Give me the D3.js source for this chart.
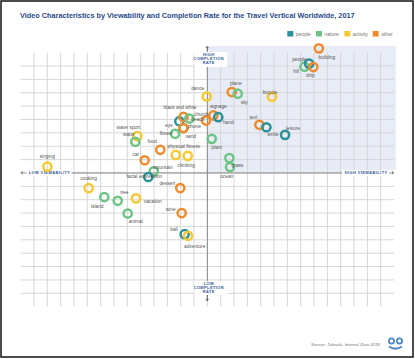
<!DOCTYPE html>
<html><head><meta charset="utf-8">
<script src="https://cdn.jsdelivr.net/npm/d3@7"></script>
<style>
html,body{margin:0;padding:0;background:#fff;}
svg{display:block;font-family:"Liberation Sans",Arial,Helvetica,sans-serif;}
</style></head>
<body>
<svg id="chart" width="415" height="359"></svg>
<script>
// ---- data ----
const categoryNames = ["people", "nature", "activity", "other"];
const pointNames = ["singing","cooking","island","tree","vacation","animal","water sport","water","car","food",
  "mountain","facial expression","flower","physical fitness","climbing","dessert","wine","ball","adventure",
  "eye","sand","phone","black and white","beach","church","dance","signage","hand","plant","plane","sky",
  "bicycle","text","smile","leisure","grass","ocean","hill","people","ship","building"];
const pointCategories = ["activity","activity","nature","nature","activity","nature","activity","nature","other","other",
  "nature","people","nature","activity","activity","other","other","people","activity",
  "people","nature","other","other","nature","other","activity","other","people","nature","other","nature",
  "activity","other","people","people","nature","nature","nature","people","other","other"];
const viewability = [-12.0,-8.9,-7.73,-6.72,-5.35,-5.97,-5.25,-5.4,-4.7,-3.53,
  -4.02,-4.43,-2.42,-2.37,-1.47,-2.03,-1.92,-1.7,-1.45,
  -2.1,-1.8,-1.8,-1.79,-1.35,-0.1,-0.05,0.45,0.82,0.33,1.83,2.28,
  4.85,3.9,4.43,5.83,1.65,1.7,7.28,7.63,7.95,8.36];
const completionRate = [0.47,-1.14,-1.8,-2.08,-1.9,-3.03,2.75,2.33,0.95,1.73,
  0.12,-0.3,2.93,1.35,1.28,-1.13,-3.0,-4.58,-4.7,
  3.87,3.36,3.36,4.19,4.07,3.92,5.72,4.3,4.17,2.55,6.05,5.93,
  5.7,3.6,3.42,2.85,1.11,0.44,7.95,8.18,7.92,9.32];

// ---- layout (label placement, px offsets from ring centre) ----
const labelOffsets = {
  "singing":[0,-10],"cooking":[0,-9.5],"island":[-7,9.4],"tree":[6.6,-8],"vacation":[16.7,3.6],
  "animal":[8,8.3],"water sport":[-9,-9],"water":[-6.5,-7],"car":[-9,-5.7],"food":[-8,-8.6],
  "mountain":[9,-3.4],"facial expression":[-4,0],"flower":[-9,0],"physical fitness":[8,-8.6],
  "climbing":[-1.7,9.4],"dessert":[-13,-4.3],"wine":[-11,-4],"ball":[-10.7,-4.3],"adventure":[6.7,10.7],
  "eye":[-10.5,4.5],"sand":[7.5,8],"phone":[11,-1.5],"black and white":[-3.5,-9],"beach":[8.5,1],
  "church":[-5,-6.5],"dance":[-9,-8],"signage":[5,-9],"hand":[10,5.6],"plant":[5,8.4],
  "plane":[4,-9],"sky":[6.6,8.7],"bicycle":[-2,-4.3],"text":[-6,-7.6],"smile":[6.4,7.6],
  "leisure":[8,-6.3],"grass":[8,7.5],"ocean":[-3.3,9.8],"hill":[-8.3,4.4],"people":[-9.7,-4.3],
  "ship":[-3,8.3],"building":[8,8.7]
};

const colors = {people:"#2a9199", nature:"#6cc485", activity:"#f5c834", other:"#ef8b2c"};

const points = pointNames.map((n,i)=>({name:n, cat:pointCategories[i], vx:viewability[i], cy:completionRate[i]}));

const svg = d3.select("#chart");

// scales: one grid cell = 1 unit
const x = d3.scaleLinear().domain([-13,13]).range([34,380.7]);
const y = d3.scaleLinear().domain([-9,8]).range([293.3,66]);

// border
svg.append("rect").attr("x",1).attr("y",1).attr("width",412).attr("height",356)
  .attr("fill","#fff").attr("stroke","#111").attr("stroke-width",1.5);

// title
svg.append("text").attr("x",20).attr("y",18.2).attr("fill","#2b4a8b")
  .attr("font-weight","bold").attr("font-size",7.3)
  .text("Video Characteristics by Viewability and Completion Rate for the Travel Vertical Worldwide, 2017");

// legend
const lg = svg.append("g");
const legendX = [287.3, 316, 344.3, 372.7];
categoryNames.forEach((c,i)=>{
  lg.append("rect").attr("x",legendX[i]).attr("y",31).attr("width",6).attr("height",5.5).attr("fill",colors[c]);
  lg.append("text").attr("x",legendX[i]+8.5).attr("y",35.6).attr("font-size",5).attr("fill","#777").text(c);
});

// shaded quadrant
svg.append("rect").attr("x",x(0)).attr("y",46).attr("width",396-x(0)).attr("height",y(0)-46)
  .attr("fill","#e8ecf6");

// grid
const grid = svg.append("g").attr("stroke","#d6d6d6").attr("stroke-width",1);
d3.range(-13,14).forEach(v=>{
  grid.append("line").attr("x1",x(v)).attr("x2",x(v)).attr("y1",y(9)).attr("y2",y(-10));
});
d3.range(-9,9).forEach(v=>{
  grid.append("line").attr("x1",x(-14)).attr("x2",x(14)).attr("y1",y(v)).attr("y2",y(v));
});

// main axes
const ax = svg.append("g").attr("stroke","#8a8a8a").attr("stroke-width",1);
ax.append("line").attr("x1",x(-14)).attr("x2",x(14)).attr("y1",y(0)).attr("y2",y(0));
ax.append("line").attr("x1",x(0)).attr("x2",x(0)).attr("y1",y(9.4)).attr("y2",y(-9.6));

// axis end labels
const axColor = "#2f5597";
function arrowHead(g, cx, cy, dir){
  const s=1.6;
  let pts;
  if(dir==="left") pts=[[cx,cy],[cx+s,cy-s],[cx+s,cy+s]];
  if(dir==="right") pts=[[cx,cy],[cx-s,cy-s],[cx-s,cy+s]];
  if(dir==="up") pts=[[cx,cy],[cx-s,cy+s],[cx+s,cy+s]];
  if(dir==="down") pts=[[cx,cy],[cx-s,cy-s],[cx+s,cy-s]];
  g.append("polyline").attr("points",pts.map(p=>p.join(",")).join(" ")).attr("fill","none")
    .attr("stroke","#555").attr("stroke-width",0.6);
}
const al = svg.append("g");
// left
al.append("rect").attr("x",x(-14)-1).attr("y",y(0)-3).attr("width",52).attr("height",6).attr("fill","#fff");
al.append("line").attr("x1",x(-14)).attr("x2",x(-14)+6).attr("y1",y(0)).attr("y2",y(0)).attr("stroke","#555").attr("stroke-width",0.6);
arrowHead(al, x(-14), y(0), "left");
al.append("text").attr("x",x(-14)+8).attr("y",y(0)+1.4).attr("font-size",3.9).attr("font-weight","bold")
  .attr("letter-spacing",0.45).attr("fill",axColor).text("LOW VIEWABILITY");
// right
al.append("rect").attr("x",342).attr("y",y(0)-3).attr("width",54).attr("height",6).attr("fill","#fff");
al.append("line").attr("x1",x(14)-5).attr("x2",x(14)).attr("y1",y(0)).attr("y2",y(0)).attr("stroke","#555").attr("stroke-width",0.6);
arrowHead(al, x(14), y(0), "right");
al.append("text").attr("x",x(14)-6.5).attr("y",y(0)+1.4).attr("text-anchor","end").attr("font-size",3.9)
  .attr("font-weight","bold").attr("letter-spacing",0.45).attr("fill",axColor).text("HIGH VIEWABILITY");
// top
al.append("rect").attr("x",x(0)-13).attr("y",52).attr("width",33).attr("height",15).attr("fill","#fff");
al.append("line").attr("x1",x(0)).attr("x2",x(0)).attr("y1",46).attr("y2",51).attr("stroke","#555").attr("stroke-width",0.6);
arrowHead(al, x(0), 46, "up");
["HIGH","COMPLETION","RATE"].forEach((t,i)=>{
  al.append("text").attr("x",x(0)+1.5).attr("y",56.4+i*3.9).attr("text-anchor","middle").attr("font-size",3.9)
    .attr("font-weight","bold").attr("letter-spacing",0.45).attr("fill",axColor).text(t);
});
// bottom
al.append("rect").attr("x",x(0)-13).attr("y",281).attr("width",33).attr("height",14).attr("fill","#fff");
al.append("line").attr("x1",x(0)).attr("x2",x(0)).attr("y1",295).attr("y2",301).attr("stroke","#555").attr("stroke-width",0.6);
arrowHead(al, x(0), 301, "down");
["LOW","COMPLETION","RATE"].forEach((t,i)=>{
  al.append("text").attr("x",x(0)+1.5).attr("y",285+i*3.9).attr("text-anchor","middle").attr("font-size",3.9)
    .attr("font-weight","bold").attr("letter-spacing",0.45).attr("fill",axColor).text(t);
});

// rings
const rings = svg.append("g");
rings.selectAll("circle").data(points).join("circle")
  .attr("cx",d=>x(d.vx)).attr("cy",d=>y(d.cy)).attr("r",4.1)
  .attr("fill","none")
  .attr("stroke",d=>colors[d.cat]).attr("stroke-width",2.5);

// labels
svg.append("g").selectAll("text").data(points).join("text")
  .attr("x",d=>x(d.vx)+labelOffsets[d.name][0])
  .attr("y",d=>y(d.cy)+labelOffsets[d.name][1])
  .attr("text-anchor","middle").attr("dominant-baseline","central")
  .attr("font-size",4.8).attr("fill","#555").text(d=>d.name);

// source
svg.append("text").attr("x",380).attr("y",345.5).attr("text-anchor","end").attr("font-size",4.3)
  .attr("font-style","italic").attr("fill","#777").text("Source: Taboola, Internal Data 2018");

// logo
const logo = svg.append("g").attr("stroke","#4f86c6").attr("fill","none").attr("stroke-width",1.8);
logo.append("circle").attr("cx",391.5).attr("cy",341).attr("r",2.6);
logo.append("circle").attr("cx",399.5).attr("cy",341).attr("r",2.6);
logo.append("path").attr("d","M389,346.5 Q395.5,351 402,346.5");
</script>
</body></html>
